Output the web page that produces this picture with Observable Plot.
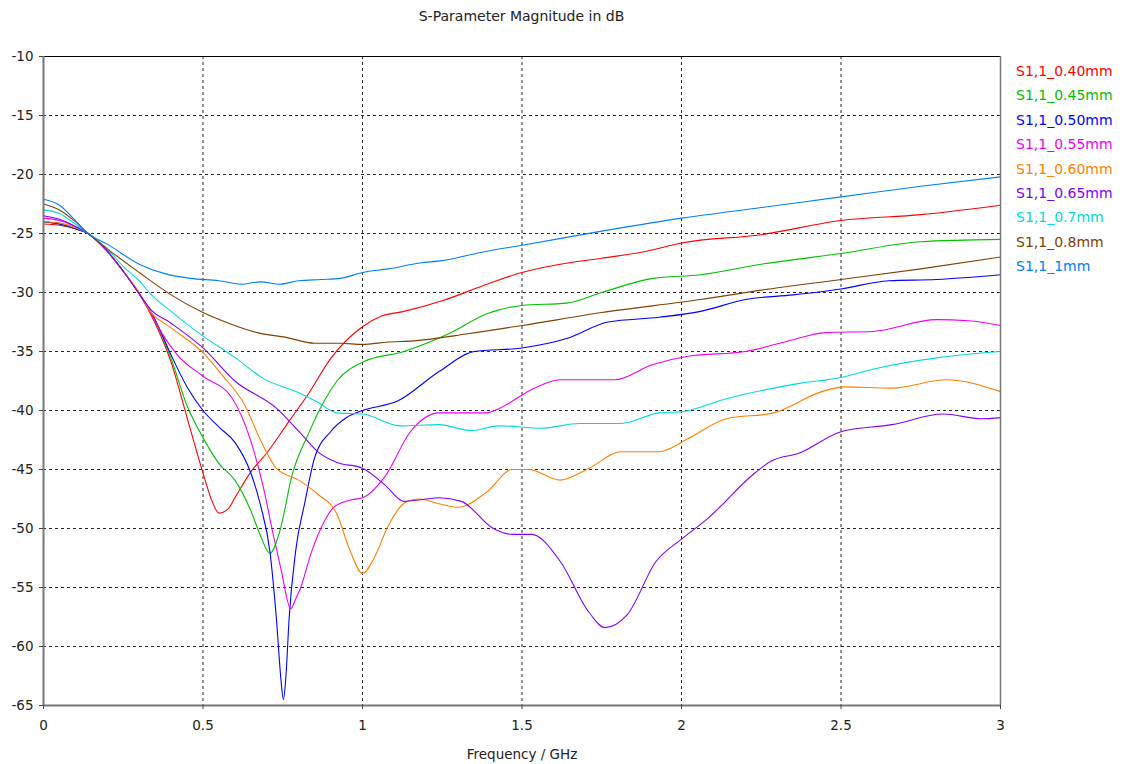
<!DOCTYPE html>
<html><head><meta charset="utf-8">
<script src="https://cdn.jsdelivr.net/npm/d3@7"></script>
<script src="https://cdn.jsdelivr.net/npm/@observablehq/plot@0.6"></script>
<style>
body{margin:0;background:#fff;}
#wrap{position:relative;width:1122px;height:764px;font-family:"DejaVu Sans",Verdana,sans-serif;}
#wrap svg{position:absolute;left:0;top:0;}
#title{position:absolute;left:0;width:1043px;top:8px;text-align:center;font-size:14px;color:#222;line-height:17px;}
#legend{position:absolute;left:1016px;top:63px;font-size:14px;}
#legend div{height:24.4px;line-height:17px;white-space:nowrap;}
</style></head>
<body><div id="wrap"><div id="title">S-Parameter Magnitude in dB</div><div id="legend"></div></div>
<script>
const seriesNames = ["S1,1_0.40mm","S1,1_0.45mm","S1,1_0.50mm","S1,1_0.55mm","S1,1_0.60mm","S1,1_0.65mm","S1,1_0.7mm","S1,1_0.8mm","S1,1_1mm"];
const seriesColors = ["#ff0000","#00c000","#0000ff","#f000f0","#ff8000","#8000ff","#00dada","#804000","#0080ff"];
const xTicks = [0,0.5,1,1.5,2,2.5,3];
const yTicks = [-65,-60,-55,-50,-45,-40,-35,-30,-25,-20,-15,-10];

const f040 = [0,0.05,0.1,0.14,0.2,0.25,0.3,0.35,0.4,0.45,0.5,0.53,0.55,0.58,0.6,0.65,0.7,0.77,0.83,0.9,1.0,1.06,1.13,1.25,1.39,1.5,1.62,1.75,1.89,2.0,2.25,2.5,2.75,3.0];
const d040 = [-24.2,-24.3,-24.6,-25.0,-26.5,-28.2,-30.1,-32.6,-35.9,-40.6,-45.3,-47.8,-48.7,-48.3,-47.4,-45.2,-43.6,-40.9,-38.6,-35.6,-32.9,-32.0,-31.6,-30.7,-29.3,-28.3,-27.6,-27.1,-26.5,-25.8,-25.1,-23.9,-23.4,-22.6];

const f045 = [0,0.05,0.1,0.14,0.2,0.25,0.3,0.35,0.4,0.45,0.5,0.55,0.6,0.65,0.68,0.71,0.74,0.78,0.83,0.88,0.92,1.0,1.13,1.27,1.39,1.5,1.64,1.75,1.91,2.06,2.25,2.5,2.75,3.0];
const d045 = [-24.0,-24.2,-24.6,-25.0,-26.5,-28.2,-30.1,-32.4,-35.6,-39.6,-42.3,-44.5,-45.9,-48.5,-50.6,-52.1,-50.3,-45.4,-42.0,-39.2,-37.5,-35.9,-35.0,-33.5,-31.8,-31.1,-30.9,-30.0,-28.8,-28.5,-27.6,-26.7,-25.7,-25.5];

const f050 = [0,0.05,0.1,0.14,0.2,0.25,0.3,0.35,0.4,0.45,0.5,0.55,0.6,0.65,0.68,0.71,0.73,0.745,0.752,0.76,0.77,0.79,0.82,0.85,0.9,0.95,1.0,1.11,1.24,1.35,1.5,1.64,1.77,1.93,2.06,2.2,2.35,2.5,2.65,2.8,3.0];
const d050 = [-24.0,-24.2,-24.6,-25.0,-26.5,-28.2,-30.1,-32.3,-35.3,-38.0,-40.0,-41.4,-42.7,-45.3,-48.0,-52.0,-57.6,-63.0,-64.5,-62.5,-57.6,-52.0,-47.7,-44.0,-41.8,-40.6,-40.0,-39.2,-36.7,-35.0,-34.7,-33.9,-32.5,-32.1,-31.6,-30.6,-30.2,-29.7,-29.0,-28.9,-28.5];

const f055 = [0,0.05,0.1,0.14,0.2,0.25,0.3,0.335,0.37,0.42,0.5,0.59,0.65,0.69,0.72,0.745,0.775,0.79,0.805,0.84,0.88,0.91,0.96,1.0,1.07,1.15,1.24,1.39,1.43,1.54,1.62,1.79,1.91,2.02,2.2,2.35,2.45,2.6,2.8,2.9,3.0];
const d055 = [-23.7,-23.9,-24.4,-25.0,-26.5,-28.2,-30.1,-31.6,-33.4,-35.3,-37.1,-38.9,-42.6,-46.6,-50.5,-53.5,-56.8,-56.0,-55.1,-52.0,-49.4,-48.2,-47.6,-47.4,-45.6,-41.8,-40.2,-40.2,-39.8,-38.1,-37.4,-37.4,-36.1,-35.4,-35.0,-34.0,-33.4,-33.3,-32.3,-32.4,-32.8];

const f060 = [0,0.05,0.1,0.14,0.2,0.25,0.3,0.335,0.4,0.5,0.56,0.63,0.68,0.73,0.8,0.86,0.92,0.96,1.0,1.04,1.08,1.14,1.18,1.24,1.3,1.39,1.47,1.52,1.62,1.71,1.81,1.93,2.02,2.14,2.29,2.44,2.51,2.66,2.83,3.0];
const d060 = [-24.0,-24.1,-24.5,-25.0,-26.5,-28.2,-30.0,-31.6,-33.0,-35.1,-37.0,-39.5,-42.5,-44.9,-45.9,-47.1,-48.8,-51.8,-53.8,-52.3,-49.8,-47.7,-47.5,-47.9,-48.2,-46.9,-45.0,-45.0,-45.9,-44.9,-43.5,-43.5,-42.4,-40.7,-40.2,-38.4,-38.0,-38.1,-37.4,-38.4];

const f065 = [0,0.05,0.1,0.14,0.2,0.25,0.3,0.335,0.4,0.5,0.6,0.73,0.805,0.86,0.92,1.0,1.07,1.13,1.2,1.24,1.31,1.41,1.47,1.53,1.62,1.71,1.76,1.83,1.92,2.0,2.08,2.23,2.28,2.37,2.5,2.66,2.82,2.94,3.0];
const d065 = [-23.5,-23.8,-24.4,-25.0,-26.5,-28.2,-30.1,-31.4,-32.6,-34.7,-37.5,-39.8,-41.9,-43.5,-44.4,-44.9,-46.3,-47.7,-47.5,-47.4,-47.7,-50.0,-50.5,-50.5,-52.8,-57.1,-58.4,-57.3,-52.8,-50.9,-49.2,-45.3,-44.3,-43.6,-41.8,-41.2,-40.3,-40.7,-40.6];

const f07 = [0,0.05,0.1,0.14,0.2,0.25,0.3,0.335,0.4,0.5,0.6,0.69,0.8,0.86,0.92,1.0,1.12,1.24,1.34,1.43,1.56,1.68,1.81,1.93,2.0,2.14,2.37,2.5,2.6,2.81,3.0];
const d07 = [-23.0,-23.3,-24.2,-25.0,-26.3,-27.8,-29.0,-30.1,-31.6,-33.7,-35.5,-37.3,-38.5,-39.3,-40.2,-40.3,-41.3,-41.2,-41.7,-41.3,-41.5,-41.1,-41.1,-40.2,-40.1,-39.0,-37.7,-37.2,-36.5,-35.5,-35.0];

const f08 = [0,0.05,0.1,0.14,0.2,0.3,0.4,0.5,0.58,0.67,0.76,0.85,0.93,1.0,1.08,1.16,1.33,1.5,1.75,2.06,2.25,2.5,2.75,3.0];
const d08 = [-22.5,-23.0,-24.0,-25.0,-26.3,-28.3,-30.2,-31.7,-32.6,-33.4,-33.8,-34.3,-34.3,-34.4,-34.2,-34.1,-33.5,-32.8,-31.7,-30.6,-29.8,-28.9,-28.0,-27.0];

const f1 = [0,0.05,0.1,0.14,0.2,0.3,0.38,0.46,0.55,0.62,0.68,0.74,0.8,0.87,0.93,1.0,1.08,1.18,1.25,1.39,1.5,1.75,2.0,2.25,2.5,2.75,3.0];
const d1 = [-22.1,-22.6,-23.9,-25.0,-25.9,-27.6,-28.4,-28.8,-29.0,-29.3,-29.1,-29.3,-29.0,-28.9,-28.8,-28.3,-28.0,-27.5,-27.3,-26.5,-26.0,-24.8,-23.7,-22.8,-21.9,-21.0,-20.2];

const freqs = [f040,f045,f050,f055,f060,f065,f07,f08,f1];
const dbs = [d040,d045,d050,d055,d060,d065,d07,d08,d1];

const rows = [];
seriesNames.forEach((name, i) => {
  freqs[i].forEach((f, j) => rows.push({series: name, f, db: dbs[i][j]}));
});

const chart = Plot.plot({
  width: 1122, height: 764,
  marginTop: 56, marginBottom: 59, marginLeft: 43, marginRight: 122,
  x: {domain: [0, 3]},
  y: {domain: [-65, -10]},
  color: {domain: seriesNames, range: seriesColors},
  style: {fontFamily: "'DejaVu Sans', Verdana, sans-serif", fontSize: "13.5px", color: "#222", background: "transparent"},
  marks: [
    Plot.gridX(xTicks, {stroke: "#000", strokeOpacity: 0.85, strokeDasharray: "3,3", strokeWidth: 1}),
    Plot.gridY(yTicks, {stroke: "#000", strokeOpacity: 0.85, strokeDasharray: "3,3", strokeWidth: 1}),
    Plot.line(rows, {x: "f", y: "db", z: "series", stroke: "series", strokeWidth: 1.1, curve: "monotone-x"}),
    Plot.ruleY([-10], {stroke: "#000", strokeWidth: 1.2}),
    Plot.ruleY([-65], {stroke: "#777", strokeWidth: 2}),
    Plot.ruleX([0], {stroke: "#777", strokeWidth: 2}),
    Plot.ruleX([3], {stroke: "#777", strokeWidth: 1.5}),
    Plot.axisX(xTicks, {tickSize: 4, tickPadding: 11, tickFormat: d => String(d), label: null, stroke: "#444"}),
    Plot.axisY(yTicks, {tickSize: 4, tickPadding: 6, tickFormat: d => String(d), label: null, stroke: "#444"}),
    Plot.text(["Frequency / GHz"], {frameAnchor: "bottom", lineAnchor: "middle", dy: 49, fill: "#222"})
  ]
});
document.getElementById("wrap").appendChild(chart);

const legend = document.getElementById("legend");
seriesNames.forEach((name, i) => {
  const d = document.createElement("div");
  d.textContent = name;
  d.style.color = seriesColors[i];
  legend.appendChild(d);
});
</script>
</body></html>
